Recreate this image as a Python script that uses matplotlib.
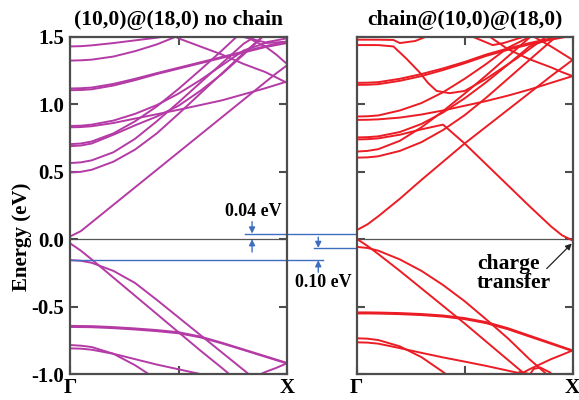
import numpy as np
import matplotlib
matplotlib.use("Agg")
import matplotlib.pyplot as plt

N = np.nan

# k-path grid (Gamma -> X), shared by most bands
K = [0, 0.05, 0.1, 0.2, 0.3, 0.4, 0.5, 0.6, 0.7, 0.8, 0.9, 0.95, 1.0]

## (10,0)@(18,0) no chain -- energies in eV on K
nc_lin = [0.02, 0.06, 0.125, 0.255, 0.385, 0.515, 0.645, 0.775, 0.905, 1.035, 1.165, 1.23, 1.29]
nc_c1 = [0.495, 0.50, 0.515, 0.575, 0.665, 0.785, 0.93, 1.08, 1.23, 1.38, 1.52, N, N]
nc_c2 = [0.565, 0.57, 0.585, 0.645, 0.745, 0.875, 1.015, 1.16, 1.305, 1.45, 1.55, N, N]
nc_c3 = [0.69, 0.695, 0.71, 0.775, 0.845, 0.91, 0.99, 1.10, 1.225, 1.37, 1.52, N, N]
nc_c4 = [0.705, 0.71, 0.725, 0.785, 0.875, 0.985, 1.115, 1.255, 1.40, 1.55, N, N, N]
nc_c5 = [0.83, 0.832, 0.838, 0.862, 0.895, 0.927, 0.96, 0.995, 1.03, 1.075, 1.12, 1.145, 1.17]
nc_c6 = [0.84, 0.842, 0.85, 0.88, 0.93, 0.995, 1.08, 1.18, 1.29, 1.40, 1.455, 1.46, 1.465]
nc_c7 = [1.105, 1.107, 1.112, 1.14, 1.18, 1.225, 1.265, 1.305, 1.345, 1.385, 1.425, 1.44, 1.455]
nc_c8 = [1.118, 1.12, 1.125, 1.152, 1.19, 1.232, 1.272, 1.312, 1.352, 1.392, 1.432, 1.45, 1.468]
nc_c9 = [1.325, 1.327, 1.332, 1.355, 1.395, 1.445, 1.51, N, N, N, N, N, N]
nc_c10 = [1.43, 1.432, 1.438, 1.455, 1.475, 1.495, 1.52, N, N, N, N, N, N]
nc_c11 = [N, N, N, N, N, 1.58, 1.49, 1.43, 1.37, 1.30, 1.24, 1.20, 1.16]
nc_c12 = [N, N, N, N, N, N, N, N, 1.60, 1.51, 1.43, 1.37, 1.30]
nc_c13 = [N, N, N, N, N, N, N, N, 1.58, 1.50, 1.46, 1.475, 1.49]

nc_v1 = [-0.03, -0.085, -0.15, -0.285, -0.42, -0.555, -0.69, -0.825, -0.955, -1.09, N, N, N]
nc_v2 = [-0.155, -0.16, -0.175, -0.235, -0.325, -0.45, -0.58, -0.71, -0.84, -0.97, -1.1, N, N]
nc_v3 = [-0.643, -0.644, -0.645, -0.652, -0.662, -0.674, -0.69, -0.722, -0.768, -0.818, -0.868, -0.893, -0.918]
nc_v4 = [-0.651, -0.652, -0.653, -0.66, -0.67, -0.682, -0.698, -0.728, -0.773, -0.822, -0.872, -0.897, -0.922]
nc_v5 = [-0.785, -0.79, -0.80, -0.85, -0.935, -1.04, N, N, N, N, N, N, N]
nc_v6 = [-0.81, -0.812, -0.82, -0.85, -0.89, -0.93, -0.965, -1.0, -1.04, N, N, N, N]
nc_v7 = [N, N, N, N, N, N, N, N, N, -1.06, -0.985, -0.955, -0.92]

## chain@(10,0)@(18,0)
ch_lin = [0.067, 0.11, 0.17, 0.30, 0.44, 0.575, 0.71, 0.835, 0.96, 1.085, 1.21, 1.27, 1.33]
ch_ct = [0.74, 0.742, 0.748, 0.775, 0.815, 0.85, 0.71, 0.555, 0.40, 0.245, 0.095, 0.03, -0.01]
ch_c3 = [0.605, 0.607, 0.615, 0.655, 0.72, 0.81, 0.92, 1.05, 1.19, 1.33, 1.47, 1.54, N]
ch_c4 = [0.65, 0.655, 0.668, 0.73, 0.83, 0.95, 1.08, 1.215, 1.355, 1.495, N, N, N]
ch_c5 = [0.755, 0.757, 0.763, 0.795, 0.855, 0.94, 1.045, 1.165, 1.295, 1.43, 1.49, 1.51, 1.53]
ch_c6 = [0.885, 0.886, 0.889, 0.902, 0.925, 0.955, 0.99, 1.025, 1.065, 1.11, 1.16, 1.185, 1.21]
ch_c7 = [0.91, 0.912, 0.918, 0.955, 1.01, 1.09, 1.19, 1.30, 1.42, 1.50, 1.55, N, N]
ch_c8 = [1.145, 1.146, 1.15, 1.175, 1.21, 1.255, 1.305, 1.36, 1.405, 1.445, 1.48, 1.495, 1.51]
ch_c9 = [1.16, 1.161, 1.165, 1.19, 1.225, 1.267, 1.315, 1.37, 1.415, 1.455, 1.49, 1.505, 1.52]
ch_c10 = [N, N, N, N, N, N, N, 1.52, 1.41, 1.335, 1.275, 1.24, 1.21]
ch_c11 = [N, N, N, N, N, N, N, N, N, 1.52, 1.43, 1.38, 1.33]

# bands that need their own k points
ch_dip_k = [0, 0.1, 0.17, 0.23, 0.29, 0.33, 0.37, 0.43, 0.5, 0.6, 0.74, 0.8, 0.85, 0.9]
ch_dip_e = [1.44, 1.44, 1.43, 1.34, 1.24, 1.16, 1.10, 1.083, 1.10, 1.19, 1.34, 1.41, 1.47, 1.53]
ch_top_k = [0, 0.1, 0.17, 0.2, 0.27, 0.35]
ch_top_e = [1.48, 1.48, 1.478, 1.455, 1.47, 1.52]
ch_top2_k = [0.5, 0.54, 0.63, 0.68, 0.77, 0.8]
ch_top2_e = [1.53, 1.50, 1.44, 1.455, 1.50, 1.52]

ch_v1 = [0.003, -0.05, -0.11, -0.235, -0.365, -0.495, -0.625, -0.76, -0.895, -1.03, N, N, N]
ch_v2 = [-0.057, -0.065, -0.085, -0.15, -0.235, -0.34, -0.46, -0.595, -0.735, -0.89, -1.03, N, N]
ch_v3 = [-0.543, -0.543, -0.544, -0.548, -0.555, -0.566, -0.585, -0.615, -0.66, -0.715, -0.77, -0.798, -0.825]
ch_v4 = [-0.551, -0.551, -0.552, -0.556, -0.563, -0.574, -0.593, -0.623, -0.668, -0.722, -0.776, -0.803, -0.83]
ch_v5 = [-0.735, -0.738, -0.748, -0.795, -0.875, -0.985, -1.1, N, N, N, N, N, N]
ch_v6 = [-0.765, -0.767, -0.775, -0.808, -0.843, -0.877, -0.908, -0.94, -0.975, -1.01, N, N, N]
ch_v7 = [N, N, N, N, N, N, N, N, -1.05, -0.965, -0.89, -0.858, -0.825]
ch_h1_k = [0.70, 0.756, 0.80, 0.82]
ch_h1_e = [-1.03, -0.985, -1.0, -1.02]
ch_h2_k = [0.79, 0.82, 0.85, 0.895, 0.92]
ch_h2_e = [-1.03, -0.962, -0.952, -0.988, -1.03]

# gap markers (eV)
gap_hi = 0.042
gap_cb = -0.065
gap_vb = -0.156

MAGENTA = "#B43AA6"
RED = "#EC1C24"
BLUE = "#3D6EC0"
FRAME = "#4d4d4d"
LW = 1.4

plt.rcParams['font.family'] = ['Liberation Serif', 'DejaVu Serif']
plt.rcParams['font.weight'] = 'bold'

fig = plt.figure(figsize=(5.79, 4.0), dpi=100)
axL = fig.add_axes([0.1209, 0.065, 0.3748, 0.8425])
axR = fig.add_axes([0.616, 0.065, 0.373, 0.8425])

nc_bands = [nc_lin, nc_c1, nc_c2, nc_c3, nc_c4, nc_c5, nc_c6, nc_c7, nc_c8, nc_c9,
            nc_c10, nc_c11, nc_c12, nc_c13, nc_v1, nc_v2, nc_v3, nc_v4, nc_v5, nc_v6, nc_v7]
for b in nc_bands:
    axL.plot(K, b, color=MAGENTA, lw=LW)

ch_bands = [ch_lin, ch_ct, ch_c3, ch_c4, ch_c5, ch_c6, ch_c7, ch_c8, ch_c9, ch_c10, ch_c11,
            ch_v1, ch_v2, ch_v3, ch_v4, ch_v5, ch_v6, ch_v7]
for b in ch_bands:
    axR.plot(K, b, color=RED, lw=LW)
for kk, ee in [(ch_dip_k, ch_dip_e), (ch_top_k, ch_top_e), (ch_top2_k, ch_top2_e),
               (ch_h1_k, ch_h1_e), (ch_h2_k, ch_h2_e)]:
    axR.plot(kk, ee, color=RED, lw=LW)

for ax in (axL, axR):
    ax.axhline(0, color="#555555", lw=0.9, zorder=1)
    ax.set_xlim(0, 1)
    ax.set_ylim(-1.0, 1.5)
    ax.set_xticks([0, 0.5, 1], ['Γ', '', 'X'])
    ax.set_yticks([-1.0, -0.5, 0.0, 0.5, 1.0, 1.5])
    ax.tick_params(direction='in', length=6, width=1.5, color=FRAME,
                   top=True, right=True, labelsize=15, pad=4)
    ax.tick_params(axis='x', pad=3)
    for s in ax.spines.values():
        s.set_color(FRAME)
        s.set_linewidth(1.6)

axL.set_yticklabels(['-1.0', '-0.5', '0.0', '0.5', '1.0', '1.5'])
axR.set_yticklabels([])
axL.set_title('(10,0)@(18,0) no chain', fontsize=15.5, fontweight='bold', pad=9)
axR.set_title('chain@(10,0)@(18,0)', fontsize=15.5, fontweight='bold', pad=9)
fig.text(0.038, 0.4075, 'Energy (eV)', rotation=90, ha='center', va='center',
         fontsize=15, fontweight='bold')

# gap guide lines, drawn in the left panel's data frame and running into the gutter
xr = 1.321
axL.plot([0.806, xr], [gap_hi, gap_hi], color=BLUE, lw=1.0, clip_on=False)
axL.plot([1.124, xr], [gap_cb, gap_cb], color=BLUE, lw=1.0, clip_on=False)
axL.plot([0, 1.166], [gap_vb, gap_vb], color=BLUE, lw=1.0, clip_on=False)

arw = dict(arrowstyle='-|>', color=BLUE, lw=1.0, mutation_scale=9, shrinkA=0, shrinkB=0)
axL.annotate('', xy=(0.839, gap_hi), xytext=(0.839, 0.13), arrowprops=arw, annotation_clip=False)
axL.annotate('', xy=(0.839, 0.0), xytext=(0.839, -0.095), arrowprops=arw, annotation_clip=False)
axL.annotate('', xy=(1.144, gap_cb), xytext=(1.144, 0.015), arrowprops=arw, annotation_clip=False)
axL.annotate('', xy=(1.144, gap_vb), xytext=(1.144, -0.245), arrowprops=arw, annotation_clip=False)

axL.text(0.846, 0.205, '0.04 eV', ha='center', va='center', fontsize=13, fontweight='bold',
         clip_on=False)
axL.text(1.166, -0.32, '0.10 eV', ha='center', va='center', fontsize=13, fontweight='bold',
         clip_on=False)

axR.text(0.557, -0.253, 'charge\ntransfer', ha='left', va='center', fontsize=15.5,
         fontweight='bold', linespacing=0.95)
axR.annotate('', xy=(0.996, -0.032), xytext=(0.88, -0.218),
             arrowprops=dict(arrowstyle='-|>', color='#222222', lw=0.9, mutation_scale=9,
                             shrinkA=0, shrinkB=0), annotation_clip=False)

fig.savefig('out.png', dpi=100)
